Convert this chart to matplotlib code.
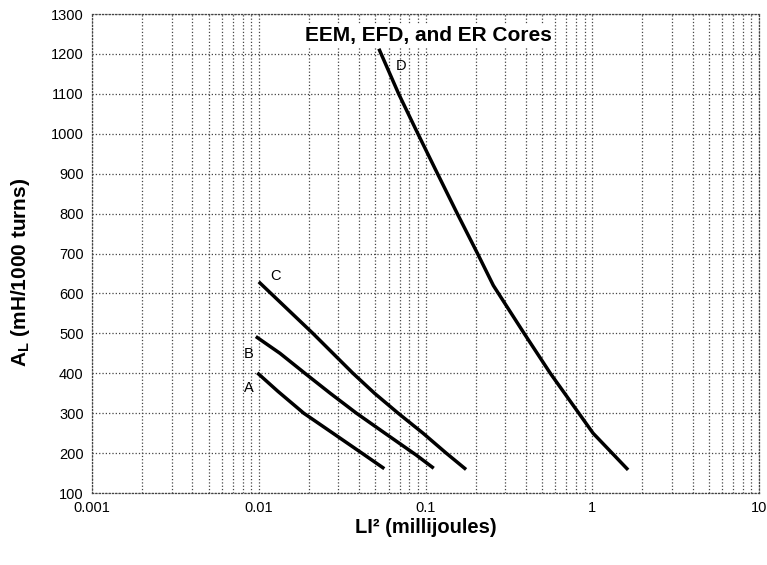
import matplotlib
matplotlib.use('Agg')
import matplotlib.pyplot as plt
from matplotlib.ticker import FixedLocator, LogLocator, NullFormatter, FixedFormatter

plt.rcParams['font.family'] = ['Liberation Sans', 'DejaVu Sans']
plt.rcParams['mathtext.fontset'] = 'custom'
plt.rcParams['mathtext.rm'] = 'Liberation Sans'
plt.rcParams['mathtext.bf'] = 'Liberation Sans:bold'

# curves (LI^2 in mJ, A_L in mH/1000 turns)
a_x = [0.0098, 0.0130, 0.0186, 0.0278, 0.0415, 0.0566]
a_y = [401, 355, 300, 250, 200, 161]
b_x = [0.0096, 0.0134, 0.0189, 0.0268, 0.0385, 0.0570, 0.0880, 0.112]
b_y = [492, 450, 400, 350, 300, 250, 195, 162]
c_x = [0.0100, 0.0211, 0.0367, 0.0494, 0.0685, 0.0965, 0.133, 0.175]
c_y = [629, 500, 400, 350, 300, 250, 200, 159]
d_x = [0.0525, 0.0690, 0.0900, 0.118, 0.155, 0.205, 0.255, 0.390, 0.560, 0.830, 1.01, 1.64]
d_y = [1213, 1100, 1000, 900, 800, 700, 620, 500, 400, 300, 250, 158]

curve_labels = ['A', 'B', 'C', 'D']
label_x = [0.00875, 0.00875, 0.0126, 0.0716]
label_y = [362, 448, 643, 1171]

x_ticks = [0.001, 0.01, 0.1, 1, 10]
x_tick_labels = ['0.001', '0.01', '0.1', '1', '10']
y_ticks = list(range(100, 1301, 100))

fig = plt.figure(figsize=(7.67, 5.65), dpi=100)
ax = fig.add_axes([0.12, 0.1274, 0.8696, 0.8478])

for xs, ys in [(a_x, a_y), (b_x, b_y), (c_x, c_y), (d_x, d_y)]:
    ax.plot(xs, ys, color='black', linewidth=2.5, solid_capstyle='butt',
            solid_joinstyle='round', zorder=3)

for lab, lx, ly in zip(curve_labels, label_x, label_y):
    ax.text(lx, ly, lab, fontsize=10.5, ha='center', va='center', zorder=4)

ax.set_xscale('log')
ax.set_xlim(0.001, 10)
ax.set_ylim(100, 1300)
ax.xaxis.set_major_locator(FixedLocator(x_ticks))
ax.xaxis.set_major_formatter(FixedFormatter(x_tick_labels))
ax.xaxis.set_minor_locator(LogLocator(base=10, subs=range(2, 10)))
ax.xaxis.set_minor_formatter(NullFormatter())
ax.set_yticks(y_ticks)

ax.grid(True, which='both', axis='x', color='#444444', linestyle=':', linewidth=0.9)
ax.grid(True, which='major', axis='y', color='#444444', linestyle=':', linewidth=0.9)
for sp in ax.spines.values():
    sp.set_linestyle(':')
    sp.set_color('#444444')
    sp.set_linewidth(0.9)

ax.tick_params(which='both', length=0, labelsize=10.5)
ax.tick_params(axis='x', pad=6)
ax.tick_params(axis='y', pad=6)

ax.text(0.104, 1247, 'EEM, EFD, and ER Cores', fontsize=15, fontweight='bold',
        ha='center', va='center', zorder=5,
        bbox=dict(facecolor='white', edgecolor='none', pad=1.5))

ax.set_xlabel('LI² (millijoules)', fontsize=14.5, fontweight='bold', labelpad=2)
ax.set_ylabel(r'$\mathbf{A_L}$ (mH/1000 turns)', fontsize=15, fontweight='bold', labelpad=12)
ax.yaxis.set_label_coords(-0.09, 0.46)

fig.savefig('out.png', dpi=100)
